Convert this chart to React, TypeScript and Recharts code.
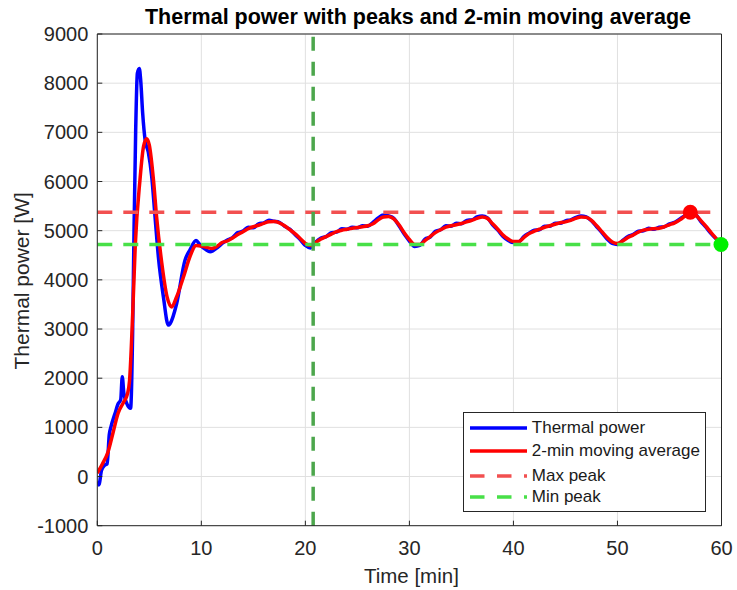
import React from 'react';
import { LineChart, Line, XAxis, YAxis, CartesianGrid, ReferenceLine, ReferenceDot, Legend, Label } from 'recharts';

const FONT = '"Liberation Sans", Arial, Helvetica, sans-serif';

// Thermal power (raw) [min] / [W]
const powerTime = [
  0, 0.15, 0.4, 0.7, 0.95, 1.15, 1.3, 1.7, 2.0, 2.25, 2.4, 2.55, 2.83, 3.2, 3.4, 3.53, 3.69, 3.85, 4.04, 4.17,
  4.36, 4.6, 4.9, 5.23, 5.55, 5.87, 6.35, 6.83, 7.0, 7.63, 8.43, 8.91, 9.49, 9.88, 10.4, 10.84, 11.63,
  12, 12.5, 13, 13.5, 14, 14.5, 15, 15.5, 16, 16.5, 17, 17.5, 18, 18.5, 19, 19.5, 20, 20.5, 21, 21.5,
  22, 22.5, 23, 23.5, 24, 24.5, 25, 25.5, 26, 26.5, 27, 27.5, 28, 28.5, 29, 29.5, 30, 30.5, 31, 31.5,
  32, 32.5, 33, 33.5, 34, 34.5, 35, 35.5, 36, 36.5, 37, 37.5, 38, 38.5, 39, 39.5, 40, 40.5, 41, 41.5,
  42, 42.5, 43, 43.5, 44, 44.5, 45, 45.5, 46, 46.5, 47, 47.5, 48, 48.5, 49, 49.5, 50, 50.5, 51, 51.5,
  52, 52.5, 53, 53.5, 54, 54.5, 55, 55.5, 56, 56.5, 57, 57.5, 58, 58.5, 59, 59.5, 60,
];
const powerValue = [
  -100, -170, 120, 230, 260, 850, 1000, 1280, 1480, 1560, 2030, 1700, 1490, 1390, 2980, 5010, 7050, 8200, 8300, 8060,
  7390, 6840, 6600, 6100, 5280, 4470, 3660, 3080, 3110, 3520, 4400, 4610, 4800, 4710, 4620, 4570, 4670,
  4740, 4810, 4860, 4960, 4990, 5070, 5060, 5140, 5160, 5210, 5190, 5170, 5090, 5030, 4920, 4820, 4700, 4650, 4770, 4850,
  4880, 4960, 4970, 5040, 5030, 5070, 5060, 5100, 5090, 5170, 5260, 5320, 5300, 5250, 5100, 4930, 4790, 4680, 4700, 4830,
  4870, 4990, 5020, 5100, 5090, 5150, 5140, 5210, 5220, 5280, 5300, 5260, 5120, 5010, 4880, 4800, 4760, 4770, 4880, 4950,
  5010, 5020, 5090, 5090, 5150, 5150, 5200, 5220, 5270, 5300, 5280, 5200, 5080, 4960, 4830, 4740, 4720, 4800, 4880, 4920,
  4990, 5000, 5050, 5030, 5070, 5080, 5140, 5170, 5240, 5310, 5360, 5330, 5190, 5070, 4940, 4830, 4730,
];

// 2-min moving average
const avgTime = [
  0, 0.5, 1, 1.5, 2, 2.5, 2.9, 3.1, 3.4, 3.65, 4.1, 4.45, 4.75, 5, 5.4, 5.7, 6.2, 6.7, 7.15, 7.6, 8.3, 8.9, 9.5, 10.2, 11, 11.5,
  12, 12.5, 13, 13.5, 14, 14.5, 15, 15.5, 16, 16.5, 17, 17.5, 18, 18.5, 19, 19.5, 20, 20.5, 21, 21.5,
  22, 22.5, 23, 23.5, 24, 24.5, 25, 25.5, 26, 26.5, 27, 27.5, 28, 28.5, 29, 29.5, 30, 30.5, 31, 31.5,
  32, 32.5, 33, 33.5, 34, 34.5, 35, 35.5, 36, 36.5, 37, 37.5, 38, 38.5, 39, 39.5, 40, 40.5, 41, 41.5,
  42, 42.5, 43, 43.5, 44, 44.5, 45, 45.5, 46, 46.5, 47, 47.5, 48, 48.5, 49, 49.5, 50, 50.5, 51, 51.5,
  52, 52.5, 53, 53.5, 54, 54.5, 55, 55.5, 56, 56.5, 57, 57.5, 58, 58.5, 59, 59.5, 60,
];
const avgValue = [
  70, 260, 480, 880, 1290, 1500, 1680, 1950, 3300, 4700, 6030, 6720, 6870, 6740, 6030, 5280, 4340, 3660, 3450, 3640, 4070, 4470, 4700, 4680, 4640, 4680,
  4760, 4790, 4850, 4920, 4980, 5040, 5080, 5110, 5150, 5180, 5185, 5160, 5100, 5020, 4940, 4840, 4740, 4700, 4760, 4830,
  4880, 4930, 4980, 5010, 5030, 5050, 5065, 5080, 5100, 5140, 5220, 5280, 5290, 5240, 5120, 4960, 4820, 4720, 4720, 4800,
  4880, 4960, 5020, 5070, 5100, 5120, 5145, 5180, 5210, 5250, 5280, 5250, 5140, 5030, 4910, 4830, 4780, 4780, 4860, 4940,
  4990, 5030, 5070, 5100, 5130, 5160, 5180, 5210, 5250, 5280, 5270, 5210, 5100, 4980, 4860, 4770, 4740, 4790, 4860, 4910,
  4970, 5010, 5030, 5040, 5050, 5080, 5120, 5160, 5220, 5300, 5375, 5320, 5210, 5090, 4960, 4840, 4720,
];

const peakLabels = ['Max peak', 'Min peak'];
const peakTime = [57.0, 59.95];
const peakValue = [5375, 4720];
const markerTime = [20.75];

const xTicks = [0, 10, 20, 30, 40, 50, 60];
const yTicks = [-1000, 0, 1000, 2000, 3000, 4000, 5000, 6000, 7000, 8000, 9000];

const powerData = powerTime.map((t, i) => ({ t, v: powerValue[i] }));
const avgData = avgTime.map((t, i) => ({ t, v: avgValue[i] }));
const maxData = [{ t: xTicks[0], v: peakValue[0] }, { t: xTicks[xTicks.length - 1], v: peakValue[0] }];
const minData = [{ t: xTicks[0], v: peakValue[1] }, { t: xTicks[xTicks.length - 1], v: peakValue[1] }];

const AXIS = '#262626';
const BLUE = '#0000ff';
const RED = '#ff0000';
const MAXC = '#f25050';
const MINC = '#48e048';
const VLINE = '#4ca64c';
const DASH = '15 11';

const legendItems = [
  { label: 'Thermal power', color: BLUE, dash: undefined as string | undefined, cy: 15 },
  { label: '2-min moving average', color: RED, dash: undefined, cy: 38 },
  { label: peakLabels[0], color: MAXC, dash: '14.5 12.5', cy: 63 },
  { label: peakLabels[1], color: MINC, dash: '14.5 12.5', cy: 84.5 },
];

const LegendBox = () => (
  <div
    style={{
      position: 'relative',
      width: 242.4,
      height: 100,
      boxSizing: 'border-box',
      border: `1px solid ${AXIS}`,
      background: '#fff',
      fontFamily: FONT,
    }}
  >
    {legendItems.map((it) => (
      <div key={it.label} style={{ position: 'absolute', left: 0, top: it.cy - 10, height: 20, width: '100%' }}>
        <svg width={60} height={20} style={{ position: 'absolute', left: 6, top: 0 }}>
          <line x1={0} y1={10} x2={57} y2={10} stroke={it.color} strokeWidth={3.5} strokeDasharray={it.dash} />
        </svg>
        <span
          style={{
            position: 'absolute',
            left: 67.5,
            top: 0,
            lineHeight: '20px',
            fontSize: 17,
            color: '#1a1a1a',
            whiteSpace: 'nowrap',
          }}
        >
          {it.label}
        </span>
      </div>
    ))}
  </div>
);

export default function App() {
  const tickStyle = { fill: AXIS, fontSize: 20, fontFamily: FONT };
  return (
    <div style={{ position: 'absolute', left: 0, top: 0, width: 737, height: 590, background: '#fff' }}>
      <LineChart width={737} height={590} margin={{ top: 33, right: 14.5, bottom: 0, left: 0 }}>
        <CartesianGrid stroke="#e0e0e0" strokeWidth={1} />
        <XAxis
          dataKey="t"
          type="number"
          domain={[xTicks[0], xTicks[xTicks.length - 1]]}
          ticks={xTicks}
          interval={0}
          allowDataOverflow
          height={64.3}
          tickSize={-5}
          tickMargin={20.5}
          stroke={AXIS}
          tick={tickStyle}
        >
          <Label
            content={(p: any) => {
              const vb = p.viewBox || {};
              return (
                <text
                  x={vb.x + vb.width / 2 + 2}
                  y={vb.y + 57.6}
                  textAnchor="middle"
                  fontSize={20.5}
                  fontFamily={FONT}
                  fill={AXIS}
                >
                  Time [min]
                </text>
              );
            }}
          />
        </XAxis>
        <XAxis
          xAxisId="top"
          orientation="top"
          dataKey="t"
          type="number"
          domain={[xTicks[0], xTicks[xTicks.length - 1]]}
          ticks={xTicks}
          interval={0}
          height={1}
          tickSize={-5}
          tick={false}
          stroke={AXIS}
        />
        <YAxis
          type="number"
          domain={[yTicks[0], yTicks[yTicks.length - 1]]}
          ticks={yTicks}
          interval={0}
          allowDataOverflow
          width={97.3}
          tickSize={-5}
          tickMargin={14}
          stroke={AXIS}
          tick={tickStyle}
        >
          <Label
            content={(p: any) => {
              const vb = p.viewBox || {};
              const cx = vb.x + 29;
              const cy = vb.y + vb.height / 2 + 1;
              return (
                <text
                  x={cx}
                  y={cy}
                  transform={`rotate(-90 ${cx} ${cy})`}
                  textAnchor="middle"
                  fontSize={21}
                  fontFamily={FONT}
                  fill={AXIS}
                >
                  Thermal power [W]
                </text>
              );
            }}
          />
        </YAxis>
        <YAxis
          yAxisId="right"
          orientation="right"
          type="number"
          domain={[yTicks[0], yTicks[yTicks.length - 1]]}
          ticks={yTicks}
          interval={0}
          width={1}
          tickSize={-5}
          tick={false}
          stroke={AXIS}
        />
        <Line
          data={powerData}
          dataKey="v"
          type="monotone"
          stroke={BLUE}
          strokeWidth={3.5}
          dot={false}
          name="Thermal power"
          isAnimationActive={false}
        />
        <Line
          data={avgData}
          dataKey="v"
          type="monotone"
          stroke={RED}
          strokeWidth={3.5}
          dot={false}
          name="2-min moving average"
          isAnimationActive={false}
        />
        <Line
          data={maxData}
          dataKey="v"
          type="linear"
          stroke={MAXC}
          strokeWidth={3.5}
          strokeDasharray={DASH}
          dot={false}
          name={peakLabels[0]}
          isAnimationActive={false}
        />
        <Line
          data={minData}
          dataKey="v"
          type="linear"
          stroke={MINC}
          strokeWidth={3.5}
          strokeDasharray={DASH}
          dot={false}
          name={peakLabels[1]}
          isAnimationActive={false}
        />
        <ReferenceLine x={markerTime[0]} stroke={VLINE} strokeWidth={3.5} strokeDasharray="14 11" />
        <ReferenceDot x={peakTime[0]} y={peakValue[0]} r={7.5} fill={RED} stroke="none" />
        <ReferenceDot x={peakTime[1]} y={peakValue[1]} r={7.5} fill="#00f000" stroke="none" />
        <Legend
          layout="horizontal"
          verticalAlign="middle"
          align="center"
          wrapperStyle={{ position: 'absolute', left: 463.3, top: 411.7, width: 242.4, height: 100 }}
          content={() => <LegendBox />}
        />
      </LineChart>
      <svg
        width={737}
        height={40}
        style={{ position: 'absolute', left: 0, top: 0, pointerEvents: 'none' }}
      >
        <text x={418} y={24} textAnchor="middle" fontSize={21.5} fontWeight="bold" fontFamily={FONT} fill="#000">
          Thermal power with peaks and 2-min moving average
        </text>
      </svg>
    </div>
  );
}
